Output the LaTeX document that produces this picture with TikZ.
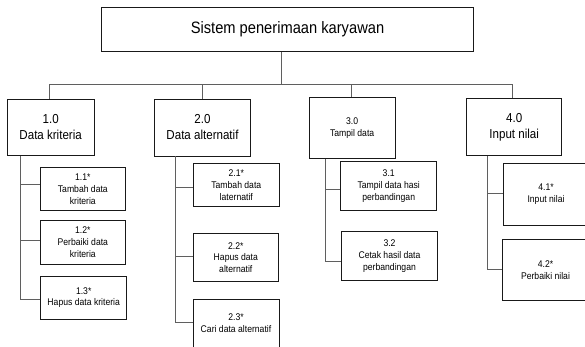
\documentclass[tikz,border=0pt]{standalone}
\usepackage{fontspec}
\setmainfont{Liberation Sans}[FakeStretch=0.89]
\definecolor{boxline}{RGB}{25,25,25}
\definecolor{conline}{RGB}{95,95,95}
\begin{document}
\begin{tikzpicture}[x=1pt,y=-1pt,
  box/.style={draw=boxline,line width=0.9pt,rectangle,inner sep=0pt,align=center},
  topfont/.style={font=\fontsize{16.5}{20}\selectfont},
  mainfont/.style={font=\fontsize{13}{16}\selectfont},
  subfont/.style={font=\fontsize{9.7}{11.8}\selectfont},
  con/.style={draw=conline,line width=1pt}]
\useasboundingbox (0,0) rectangle (585,347);
\clip (0,0) rectangle (585,347);
% top
\node[box,topfont,minimum width=371.6pt,minimum height=44.4pt] (top) at (287.5,29.5) {Sistem penerimaan karyawan};
% level 1
\node[box,mainfont,minimum width=86.7pt,minimum height=56.7pt] (n1) at (50.65,127.35) {1.0\\Data kriteria};
\node[box,mainfont,minimum width=96.4pt,minimum height=57pt] (n2) at (202.5,127.5) {2.0\\Data alternatif};
\node[box,subfont,minimum width=85.7pt,minimum height=61pt] (n3) at (352.15,127.8) {3.0\\Tampil data};
\node[box,mainfont,minimum width=95pt,minimum height=57.4pt] (n4) at (514.2,127) {4.0\\Input nilai};
% level 2
\node[box,subfont,minimum width=85.7pt,minimum height=43.4pt] (s11) at (82.85,189) {1.1*\\Tambah data\\kriteria};
\node[box,subfont,minimum width=85.7pt,minimum height=43.3pt] (s12) at (82.85,242.35) {1.2*\\Perbaiki data\\kriteria};
\node[box,subfont,minimum width=86pt,minimum height=43.3pt] (s13) at (83.7,297.65) {1.3*\\Hapus data kriteria};
\node[box,subfont,minimum width=86pt,minimum height=43.4pt] (s21) at (236.3,185) {2.1*\\Tambah data\\laternatif};
\node[box,subfont,minimum width=85.3pt,minimum height=48.4pt] (s22) at (235.8,257.5) {2.2*\\Hapus data\\alternatif};
\node[box,subfont,minimum width=86pt,minimum height=49pt] (s23) at (236,323.5) {2.3*\\Cari data alternatif};
\node[box,subfont,minimum width=96pt,minimum height=49pt] (s31) at (388.7,186.2) {3.1\\Tampil data hasi\\perbandingan};
\node[box,subfont,minimum width=95.6pt,minimum height=49.7pt] (s32) at (389.5,255.85) {3.2\\Cetak hasil data\\perbandingan};
\node[box,subfont,minimum width=86pt,minimum height=61.7pt] (s41) at (546,194.15) {4.1*\\Input nilai};
\node[box,subfont,minimum width=86pt,minimum height=61.4pt] (s42) at (545.5,270) {4.2*\\Perbaiki nilai};
% bus
\coordinate (b0) at (281.7,85);
\coordinate (d1) at (49,85);
\coordinate (d2) at (202.3,85);
\coordinate (d3) at (351.7,85);
\coordinate (d4) at (512.3,85);
\draw[con] (b0 |- top.south) -- (b0);
\draw[con] (d1 |- n1.north) -- (d1) -- (d4) -- (d4 |- n4.north);
\draw[con] (d2) -- (d2 |- n2.north);
\draw[con] (d3) -- (d3 |- n3.north);
% trunks
\coordinate (t1) at (20.7,0);
\coordinate (t2) at (175.7,0);
\coordinate (t3) at (325,0);
\coordinate (t4) at (487.3,0);
\draw[con] (t1 |- n1.south) |- ([yshift=-1.65pt]s13.west);
\draw[con] (t1 |- s11.west) ++(0,-4.7) coordinate (a11) -- ([yshift=4.7pt]s11.west);
\draw[con] (t1 |- s12.west) ++(0,-1.65) -- ([yshift=1.65pt]s12.west);
\draw[con] (t2 |- n2.south) |- ([yshift=1.2pt]s23.west);
\draw[con] (t2 |- s21.west) ++(0,2.7) -- ([yshift=-2.7pt]s21.west);
\draw[con] (t2 |- s22.west) ++(0,-1.5) -- ([yshift=1.5pt]s22.west);
\draw[con] (t3 |- n3.south) |- ([yshift=-5.15pt]s32.west);
\draw[con] (t3 |- s31.west) ++(0,3.8) -- ([yshift=-3.8pt]s31.west);
\draw[con] (t4 |- n4.south) |- ([yshift=1pt]s42.west);
\draw[con] (t4 |- s41.west) ++(0,-0.85) -- ([yshift=0.85pt]s41.west);
\end{tikzpicture}
\end{document}
